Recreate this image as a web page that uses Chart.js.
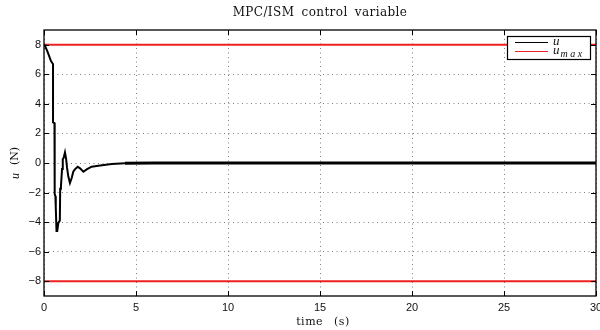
<!DOCTYPE html>
<html><head><meta charset="utf-8">
<script src="https://cdn.jsdelivr.net/npm/chart.js@4"></script>
<style>html,body{margin:0;padding:0;background:#fff;overflow:hidden}#wrap{width:600px;height:330px;overflow:hidden;position:relative}canvas{display:block}</style>
</head><body><div id="wrap"><canvas id="c" width="620" height="330"></canvas></div>
<script>
const chartTitle = 'MPC/ISM control variable';
const xAxisLabel = 'time (s)';
const yAxisLabelVar = 'u';
const yAxisLabelUnit = '(N)';
const xTicks = [0, 5, 10, 15, 20, 25, 30];
const xTickLabels = ['0', '5', '10', '15', '20', '25', '30'];
const yTicks = [-8, -6, -4, -2, 0, 2, 4, 6, 8];
const yTickLabels = ['\u22128', '\u22126', '\u22124', '\u22122', '0', '2', '4', '6', '8'];
const seriesLabels = ['u', 'u_max'];
// control variable u (N) vs time (s)
const timeValues = [0, 0.05, 0.2, 0.38, 0.46, 0.49, 0.49, 0.57, 0.58, 0.62, 0.64, 0.68, 0.72, 0.78, 0.86, 0.88, 0.92, 0.98, 1.02, 1.07, 1.14, 1.2, 1.25, 1.32, 1.41, 1.51, 1.59, 1.68, 1.83, 1.96, 2.14, 2.32, 2.59, 2.95, 3.68, 4.4, 6, 30];
const uValues =    [8.0, 7.95, 7.5, 6.9, 6.75, 6.7, 2.75, 2.7, -2.1, -2.25, -3.0, -4.6, -4.6, -4.05, -3.9, -1.75, -1.6, -0.4, 0.25, 0.35, 0.72, 0.3, -0.3, -0.9, -1.35, -1.0, -0.59, -0.43, -0.25, -0.36, -0.59, -0.43, -0.25, -0.18, -0.07, -0.02, 0, 0];
// saturation limits
const limitTime = [0, 30];
const umaxValues = [8, 8];
const uminValues = [-8, -8];

const toXY = (xs, ys) => xs.map((x, i) => ({x, y: ys[i]}));

const decor = {
  id: 'decor',
  afterDraw(chart) {
    const ctx = chart.ctx;
    const a = chart.chartArea;
    const xs = chart.scales.x, ys = chart.scales.y;
    ctx.save();
    // box
    ctx.strokeStyle = '#000';
    ctx.lineWidth = 1.3;
    ctx.strokeRect(a.left, a.top, a.right - a.left, a.bottom - a.top);
    // inward ticks
    ctx.lineWidth = 1;
    ctx.beginPath();
    const tl = 5;
    xTicks.forEach(v => {
      const px = Math.round(xs.getPixelForValue(v)) + 0.5;
      ctx.moveTo(px, a.bottom); ctx.lineTo(px, a.bottom - tl);
      ctx.moveTo(px, a.top); ctx.lineTo(px, a.top + tl);
    });
    yTicks.forEach(v => {
      const py = Math.round(ys.getPixelForValue(v)) + 0.5;
      ctx.moveTo(a.left, py); ctx.lineTo(a.left + tl, py);
      ctx.moveTo(a.right, py); ctx.lineTo(a.right - tl, py);
    });
    ctx.stroke();

    const cx = (a.left + a.right) / 2;
    ctx.fillStyle = '#111';
    ctx.textAlign = 'center';
    ctx.textBaseline = 'middle';
    // title
    ctx.font = '12px "DejaVu Serif"';
    ctx.letterSpacing = '0.4px';
    ctx.wordSpacing = '3px';
    ctx.fillText(chartTitle, cx, 13);
    // x label
    ctx.font = '11px "DejaVu Serif"';
    ctx.letterSpacing = '0.5px';
    ctx.wordSpacing = '7px';
    ctx.fillText(xAxisLabel, cx + 3, 322);
    ctx.wordSpacing = '0px';
    ctx.letterSpacing = '0px';
    // y label
    ctx.save();
    ctx.translate(15.5, (a.top + a.bottom) / 2);
    ctx.rotate(-Math.PI / 2);
    ctx.textAlign = 'left';
    ctx.font = 'italic 12px "Liberation Serif"';
    const w1 = ctx.measureText(yAxisLabelVar).width;
    ctx.font = '11px "DejaVu Serif"';
    const w2 = ctx.measureText(yAxisLabelUnit).width;
    const gap = 8;
    const tot = w1 + gap + w2;
    ctx.font = 'italic 12px "Liberation Serif"';
    ctx.fillText(yAxisLabelVar, -tot / 2, 0);
    ctx.font = '11px "DejaVu Serif"';
    ctx.fillText(yAxisLabelUnit, -tot / 2 + w1 + gap, 0);
    ctx.restore();

    // legend
    const lx = 507.5, ly = 36.5, lw = 83, lh = 23;
    ctx.fillStyle = '#fff';
    ctx.fillRect(lx, ly, lw, lh);
    ctx.strokeStyle = '#000';
    ctx.lineWidth = 1.2;
    ctx.strokeRect(lx, ly, lw, lh);
    const entries = [
      {label: chart.data.datasets[0].label, color: chart.data.datasets[0].borderColor, y: 42.5},
      {label: chart.data.datasets[1].label, color: chart.data.datasets[1].borderColor, y: 51.5}
    ];
    entries.forEach(e => {
      ctx.strokeStyle = e.color;
      ctx.lineWidth = 1;
      ctx.beginPath();
      ctx.moveTo(515, e.y); ctx.lineTo(548, e.y);
      ctx.stroke();
      ctx.fillStyle = '#111';
      ctx.textAlign = 'left';
      ctx.textBaseline = 'alphabetic';
      const parts = e.label.split('_');
      ctx.font = 'italic 13px "Liberation Serif"';
      ctx.fillText(parts[0], 553, e.y + 2.5);
      if (parts[1]) {
        const w = ctx.measureText(parts[0]).width;
        ctx.font = 'italic 10px "Liberation Serif"';
        ctx.letterSpacing = '2.5px';
        ctx.fillText(parts[1], 553 + w + 1, e.y + 5.5);
        ctx.letterSpacing = '0px';
      }
    });
    ctx.restore();
  }
};

new Chart(document.getElementById('c'), {
  type: 'line',
  data: {
    datasets: [
      {label: seriesLabels[0], data: toXY(timeValues, uValues), borderColor: '#000', borderWidth: 2,
       pointRadius: 0, tension: 0, order: 0,
       segment: {borderWidth: c => (c.p0.parsed.x >= 4 ? 3 : 2)}},
      {label: seriesLabels[1], data: toXY(limitTime, umaxValues), borderColor: 'rgb(238,32,32)', borderWidth: 2,
       pointRadius: 0, order: 1},
      {label: '-' + seriesLabels[1], data: toXY(limitTime, uminValues), borderColor: 'rgb(238,32,32)', borderWidth: 2,
       pointRadius: 0, order: 1}
    ]
  },
  options: {
    responsive: false,
    animation: false,
    events: [],
    layout: {padding: {left: 0, right: 24, top: 30, bottom: 0}},
    plugins: {legend: {display: false}, title: {display: false}, tooltip: {enabled: false}},
    scales: {
      x: {
        type: 'linear', min: 0, max: 30,
        afterBuildTicks: s => { s.ticks = xTicks.map(v => ({value: v})); },
        afterFit: s => { s.height = 34; },
        ticks: {callback: (v) => xTickLabels[xTicks.indexOf(v)], color: '#111', padding: 5,
                font: {family: '"Liberation Sans", Arial, sans-serif', size: 11}, maxRotation: 0, autoSkip: false},
        grid: {color: 'rgba(0,0,0,0.5)', lineWidth: 1, drawTicks: false},
        border: {display: false, dash: [1, 3.5]}
      },
      y: {
        type: 'linear', min: -9, max: 9,
        afterBuildTicks: s => { s.ticks = yTicks.map(v => ({value: v})); },
        afterFit: s => { s.width = 44; },
        ticks: {callback: (v) => yTickLabels[yTicks.indexOf(v)], color: '#111', padding: 3,
                font: {family: '"Liberation Sans", Arial, sans-serif', size: 11}, autoSkip: false},
        grid: {color: 'rgba(0,0,0,0.5)', lineWidth: 1, drawTicks: false},
        border: {display: false, dash: [1, 3.5]}
      }
    }
  },
  plugins: [decor]
});
</script>
</body></html>
